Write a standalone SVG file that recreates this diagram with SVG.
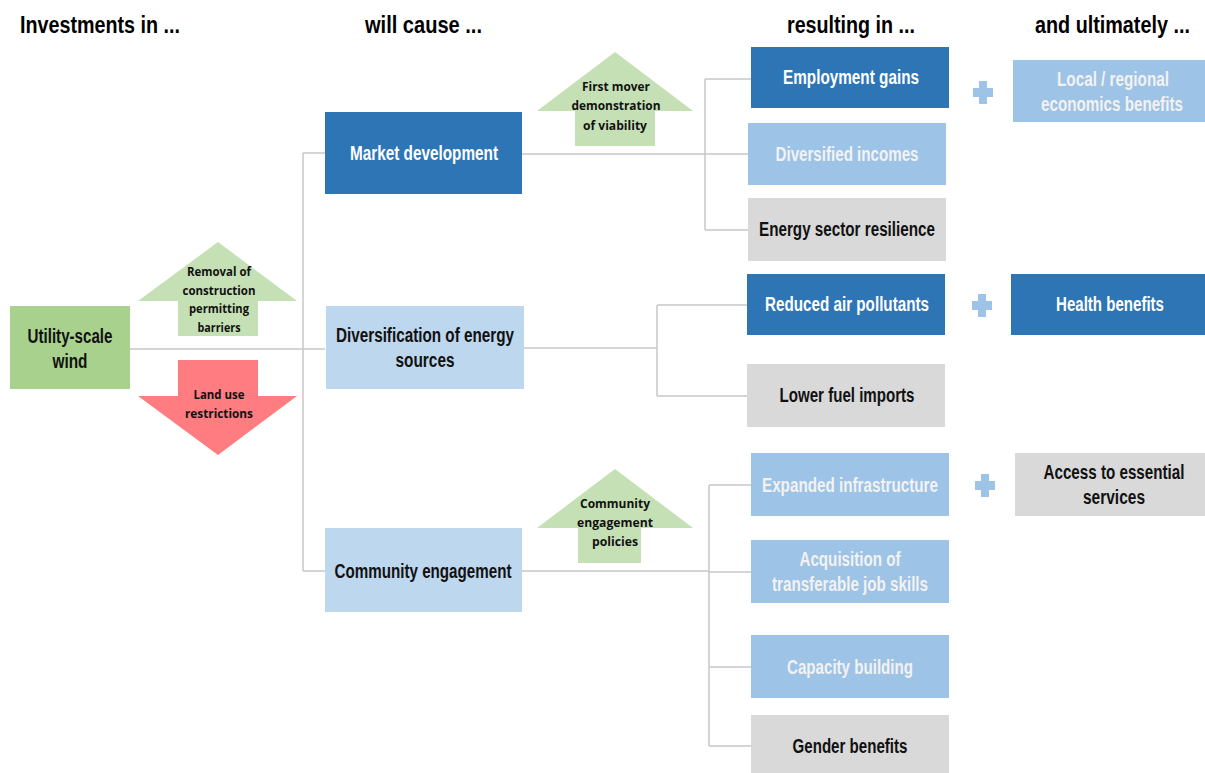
<svg xmlns="http://www.w3.org/2000/svg" width="1205" height="773" viewBox="0 0 1205 773">
<style>
text{font-family:"Liberation Sans",Arial,sans-serif;font-weight:bold;text-anchor:middle}
.hd{font-size:23px;fill:#000;text-anchor:start}
.n{font-size:20px}
.w{fill:#ffffff}
.lw{fill:#f2f2f2}
.k{fill:#111}
.ar{font-family:"Open Sans","Liberation Sans",sans-serif;font-size:13px;fill:#111}
.dark{fill:#2e75b6}
.light{fill:#bdd7ee}
.mid{fill:#9dc3e6}
.grey{fill:#d9d9d9}
.ln{fill:none;stroke:#c8c8c8;stroke-width:1.5}
.plus{fill:#9dc3e6}
</style>
<rect width="1205" height="773" fill="#fff"/>
<g id="headers">
<text class="hd" x="20" y="33" textLength="160" lengthAdjust="spacingAndGlyphs">Investments in ...</text>
<text class="hd" x="365" y="33" textLength="117" lengthAdjust="spacingAndGlyphs">will cause ...</text>
<text class="hd" x="787" y="33" textLength="128" lengthAdjust="spacingAndGlyphs">resulting in ...</text>
<text class="hd" transform="translate(1035,33) scale(0.86,1)" x="0" y="0">and ultimately ...</text>
</g>
<g id="connectors">
<path class="ln" d="M130 349H325M303 153V571M303 153H325M303 571H325"/>
<path class="ln" d="M522 154H748M705 79V230M705 79H751M705 230H748"/>
<path class="ln" d="M524 348H657M657 305V396M657 305H747M657 396H747"/>
<path class="ln" d="M522 571H709M709 485V746M709 485H751M709 572H751M709 667H751M709 746H751"/>
</g>
<g id="utility-scale-wind">
<rect x="10" y="306" width="120" height="83" fill="#a9d18e"/>
<text class="n k" x="70" y="343" textLength="85" lengthAdjust="spacingAndGlyphs">Utility-scale</text>
<text class="n k" x="70" y="368" textLength="35" lengthAdjust="spacingAndGlyphs">wind</text>
</g>
<g id="removal-barriers">
<path d="M218 242L297 301H258V336H178V301H138Z" fill="#c5e0b4"/>
<text class="ar" x="219" y="276" textLength="64" lengthAdjust="spacingAndGlyphs">Removal of</text>
<text class="ar" x="219" y="295" textLength="73" lengthAdjust="spacingAndGlyphs">construction</text>
<text class="ar" x="219" y="313" textLength="60" lengthAdjust="spacingAndGlyphs">permitting</text>
<text class="ar" x="219" y="332" textLength="43" lengthAdjust="spacingAndGlyphs">barriers</text>
</g>
<g id="land-use">
<path d="M178 360H258V396H297L218 455L138 396H178Z" fill="#ff7c80"/>
<text class="ar" x="219" y="399" textLength="51" lengthAdjust="spacingAndGlyphs">Land use</text>
<text class="ar" x="219" y="418" textLength="68" lengthAdjust="spacingAndGlyphs">restrictions</text>
</g>
<g id="market-development">
<rect class="dark" x="325" y="112" width="197" height="82"/>
<text class="n w" x="424" y="160" textLength="148" lengthAdjust="spacingAndGlyphs">Market development</text>
</g>
<g id="diversification">
<rect class="light" x="326" y="306" width="198" height="83"/>
<text class="n k" x="425" y="342" textLength="178" lengthAdjust="spacingAndGlyphs">Diversification of energy</text>
<text class="n k" x="425" y="367" textLength="59" lengthAdjust="spacingAndGlyphs">sources</text>
</g>
<g id="community-engagement">
<rect class="light" x="325" y="528" width="197" height="84"/>
<text class="n k" x="423" y="578" textLength="177" lengthAdjust="spacingAndGlyphs">Community engagement</text>
</g>
<g id="first-mover">
<path d="M615 52L693 111H655V146H575V111H537Z" fill="#c5e0b4"/>
<text class="ar" x="616" y="91" textLength="68" lengthAdjust="spacingAndGlyphs">First mover</text>
<text class="ar" x="616" y="110" textLength="89" lengthAdjust="spacingAndGlyphs">demonstration</text>
<text class="ar" x="615" y="130" textLength="64" lengthAdjust="spacingAndGlyphs">of viability</text>
</g>
<g id="community-policies">
<path d="M615 469L693 528H641V563H578V528H537Z" fill="#c5e0b4"/>
<text class="ar" x="615" y="508" textLength="70" lengthAdjust="spacingAndGlyphs">Community</text>
<text class="ar" x="615" y="527" textLength="76" lengthAdjust="spacingAndGlyphs">engagement</text>
<text class="ar" x="615" y="546" textLength="46" lengthAdjust="spacingAndGlyphs">policies</text>
</g>
<g id="employment-gains">
<rect class="dark" x="751" y="47" width="198" height="61"/>
<text class="n w" x="851" y="84" textLength="136" lengthAdjust="spacingAndGlyphs">Employment gains</text>
</g>
<g id="diversified-incomes">
<rect class="mid" x="748" y="123" width="198" height="62"/>
<text class="n lw" x="847" y="161" textLength="143" lengthAdjust="spacingAndGlyphs">Diversified incomes</text>
</g>
<g id="energy-resilience">
<rect class="grey" x="748" y="198" width="198" height="63"/>
<text class="n k" x="847" y="236" textLength="176" lengthAdjust="spacingAndGlyphs">Energy sector resilience</text>
</g>
<g id="reduced-air-pollutants">
<rect class="dark" x="747" y="274" width="198" height="61"/>
<text class="n w" x="847" y="311" textLength="164" lengthAdjust="spacingAndGlyphs">Reduced air pollutants</text>
</g>
<g id="lower-fuel-imports">
<rect class="grey" x="747" y="364" width="198" height="63"/>
<text class="n k" x="847" y="402" textLength="135" lengthAdjust="spacingAndGlyphs">Lower fuel imports</text>
</g>
<g id="expanded-infrastructure">
<rect class="mid" x="751" y="453" width="198" height="63"/>
<text class="n lw" x="850" y="492" textLength="176" lengthAdjust="spacingAndGlyphs">Expanded infrastructure</text>
</g>
<g id="acquisition-skills">
<rect class="mid" x="751" y="540" width="198" height="63"/>
<text class="n lw" x="850" y="566" textLength="101" lengthAdjust="spacingAndGlyphs">Acquisition of</text>
<text class="n lw" x="850" y="591" textLength="156" lengthAdjust="spacingAndGlyphs">transferable job skills</text>
</g>
<g id="capacity-building">
<rect class="mid" x="751" y="635" width="198" height="63"/>
<text class="n lw" x="850" y="674" textLength="126" lengthAdjust="spacingAndGlyphs">Capacity building</text>
</g>
<g id="gender-benefits">
<rect class="grey" x="751" y="715" width="198" height="58"/>
<text class="n k" x="850" y="753" textLength="115" lengthAdjust="spacingAndGlyphs">Gender benefits</text>
</g>
<g id="plus-1"><path class="plus" d="M979 81H987V88H993V97H987V104H979V97H973V88H979Z"/></g>
<g id="plus-2"><path class="plus" d="M978 294H986V301H992V310H986V317H978V310H972V301H978Z"/></g>
<g id="plus-3"><path class="plus" d="M981 474H989V481H995V490H989V497H981V490H975V481H981Z"/></g>
<g id="local-regional">
<rect class="mid" x="1013" y="60" width="192" height="62"/>
<text class="n lw" x="1113" y="86" textLength="112" lengthAdjust="spacingAndGlyphs">Local / regional</text>
<text class="n lw" transform="translate(1112,111) scale(0.76,1)" x="0" y="0">economics benefits</text>
</g>
<g id="health-benefits">
<rect class="dark" x="1011" y="274" width="194" height="61"/>
<text class="n w" x="1110" y="311" textLength="108" lengthAdjust="spacingAndGlyphs">Health benefits</text>
</g>
<g id="access-services">
<rect class="grey" x="1015" y="453" width="190" height="63"/>
<text class="n k" transform="translate(1114,479) scale(0.76,1)" x="0" y="0">Access to essential</text>
<text class="n k" x="1114" y="504" textLength="62" lengthAdjust="spacingAndGlyphs">services</text>
</g>
</svg>
